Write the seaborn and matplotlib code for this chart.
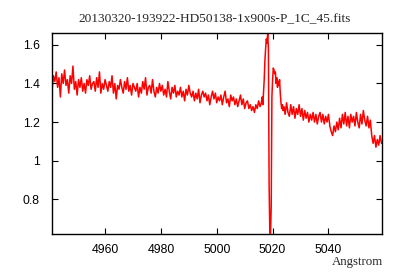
import numpy as np
import pandas as pd
import matplotlib
matplotlib.use("Agg")
import matplotlib.pyplot as plt
from matplotlib.ticker import FuncFormatter, MultipleLocator
import seaborn as sns

title = "20130320-193922-HD50138-1x900s-P_1C_45.fits"
xlabel = "Angstrom"

# wavelength grid segments (start, stop, step) as in the spectrum sampling
seg1_wave = np.arange(4941.0, 5016.0, 0.5)
seg2_wave = np.arange(5016.0, 5024.0, 0.25)
seg3_wave = np.arange(5024.0, 5059.25, 0.5)

seg1_flux = [
    1.36, 1.44, 1.41, 1.46, 1.38, 1.43, 1.33, 1.45, 1.40, 1.47,
    1.39, 1.42, 1.35, 1.44, 1.40, 1.49, 1.37, 1.41, 1.34, 1.42,
    1.38, 1.43, 1.36, 1.40, 1.35, 1.42, 1.39, 1.44, 1.37, 1.40,
    1.41, 1.36, 1.43, 1.38, 1.46, 1.35, 1.40, 1.37, 1.42, 1.39,
    1.36, 1.41, 1.38, 1.44, 1.35, 1.40, 1.32, 1.39, 1.37, 1.42,
    1.38, 1.35, 1.41, 1.37, 1.43, 1.36, 1.39, 1.34, 1.40, 1.38,
    1.36, 1.40, 1.33, 1.38, 1.35, 1.41, 1.37, 1.43, 1.34, 1.38,
    1.39, 1.35, 1.42, 1.36, 1.33, 1.38, 1.35, 1.40, 1.36, 1.39,
    1.34, 1.37, 1.33, 1.41, 1.36, 1.32, 1.38, 1.35, 1.39, 1.33,
    1.36, 1.34, 1.38, 1.33, 1.36, 1.31, 1.37, 1.34, 1.39, 1.35,
    1.33, 1.36, 1.31, 1.35, 1.32, 1.37, 1.30, 1.34, 1.36, 1.33,
    1.35, 1.31, 1.34, 1.29, 1.33, 1.36, 1.32, 1.35, 1.30, 1.33,
    1.31, 1.34, 1.29, 1.33, 1.36, 1.30, 1.32, 1.28, 1.34, 1.31,
    1.33, 1.29, 1.32, 1.28, 1.31, 1.34, 1.29, 1.32, 1.27, 1.30,
    1.31, 1.27, 1.29, 1.26, 1.28, 1.25, 1.29, 1.27, 1.31, 1.28,
]

seg2_flux = [
    1.30, 1.33, 1.29, 1.36, 1.42, 1.52, 1.58, 1.63,
    1.61, 1.66, 1.58, 0.88, 0.63, 0.62, 0.76, 1.33,
    1.42, 1.48, 1.47, 1.45, 1.46, 1.40, 1.43, 1.38,
    1.41, 1.39, 1.42, 1.35, 1.30, 1.27, 1.29, 1.26,
]

seg3_flux = [
    1.28, 1.24, 1.30, 1.25, 1.23, 1.29, 1.24, 1.28, 1.22, 1.27,
    1.24, 1.29, 1.23, 1.27, 1.21, 1.26, 1.22, 1.25, 1.20, 1.24,
    1.21, 1.25, 1.20, 1.24, 1.19, 1.23, 1.25, 1.20, 1.24, 1.19,
    1.23, 1.20, 1.24, 1.18, 1.15, 1.13, 1.18, 1.15, 1.20, 1.16,
    1.22, 1.17, 1.24, 1.19, 1.25, 1.18, 1.23, 1.17, 1.24, 1.20,
    1.23, 1.18, 1.25, 1.20, 1.17, 1.24, 1.19, 1.26, 1.21, 1.18,
    1.23, 1.17, 1.21, 1.13, 1.09, 1.13, 1.07, 1.11, 1.08, 1.13,
    1.09,
]

wave = np.concatenate([seg1_wave, seg2_wave, seg3_wave])
flux = np.array(seg1_flux + seg2_flux + seg3_flux)
df = pd.DataFrame({"wave": wave, "flux": flux})

sns.set_style("ticks")
plt.rcParams["font.family"] = ["Liberation Sans", "DejaVu Sans"]

fig = plt.figure(figsize=(4.0, 2.8), dpi=100)
ax = fig.add_axes([52 / 400, 46 / 280, 329.5 / 400, 200.7 / 280])

sns.lineplot(data=df, x="wave", y="flux", color="#ff0000", linewidth=1.1,
             estimator=None, ax=ax)

ax.set_xlim(4941.0, 5059.0)
ax.set_ylim(df["flux"].min(), df["flux"].max())
ax.xaxis.set_major_locator(MultipleLocator(20))
ax.yaxis.set_major_locator(MultipleLocator(0.2))
ax.yaxis.set_major_formatter(FuncFormatter(lambda v, p: "%g" % round(v, 6)))
ax.xaxis.set_major_formatter(FuncFormatter(lambda v, p: "%g" % v))

ax.tick_params(direction="in", length=4.5, width=0.8, top=True, right=True,
               labelsize=8.8, colors="black", pad=7)
ax.tick_params(axis="y", pad=9)
for s in ax.spines.values():
    s.set_visible(True)
    s.set_linewidth(1.0)
    s.set_color("black")

ax.set_xlabel("")
ax.set_ylabel("")
fig.text(215 / 400, 1 - 19 / 280, title, ha="center", va="center",
         fontsize=9.6, family=["Liberation Serif", "DejaVu Serif"])
fig.text(383 / 400, 1 - 262 / 280, xlabel, ha="right", va="center",
         fontsize=9.3, family=["Liberation Serif", "DejaVu Serif"])

fig.savefig("out.png", dpi=100, facecolor="white")
